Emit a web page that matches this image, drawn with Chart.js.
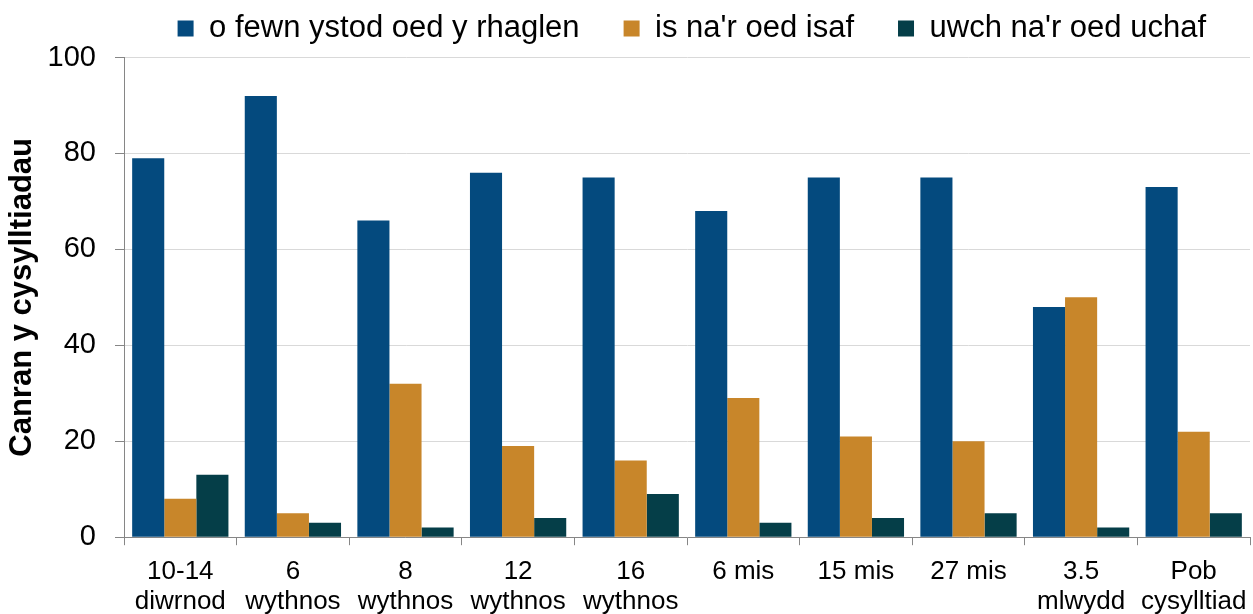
<!DOCTYPE html>
<html>
<head>
<meta charset="utf-8">
<script src="https://cdn.jsdelivr.net/npm/chart.js@4/dist/chart.umd.min.js"></script>
<style>
  html, body { margin: 0; padding: 0; background: #ffffff; }
  #wrap { width: 1253px; height: 614px; position: relative; }
</style>
</head>
<body>
<div id="wrap"><canvas id="c"></canvas></div>
<script>
const categories = [
  ['10-14', 'diwrnod'],
  ['6', 'wythnos'],
  ['8', 'wythnos'],
  ['12', 'wythnos'],
  ['16', 'wythnos'],
  '6 mis',
  '15 mis',
  '27 mis',
  ['3.5', 'mlwydd'],
  ['Pob', 'cysylltiad']
];
const seriesNames = ['o fewn ystod oed y rhaglen', "is na'r oed isaf", "uwch na'r oed uchaf"];
const withinRange = [79, 92, 66, 76, 75, 68, 75, 75, 48, 73];
const belowMinAge = [8, 5, 32, 19, 16, 29, 21, 20, 50, 22];
const aboveMaxAge = [13, 3, 2, 4, 9, 3, 4, 5, 2, 5];
const yTicks = [0, 20, 40, 60, 80, 100];
const yTitle = 'Canran y cysylltiadau';

const colors = ['#044A7E', '#C8862A', '#053E48'];
const FONT = "'Liberation Sans', Arial, sans-serif";

const legendSpacer = {
  id: 'legendSpacer',
  beforeInit(chart) {
    const lg = chart.legend;
    if (lg && !lg._patched) {
      const orig = lg.fit;
      lg.fit = function () {
        orig.call(this);
        this.height += 3.5;
      };
      lg._patched = true;
    }
  }
};

new Chart(document.getElementById('c'), {
  type: 'bar',
  data: {
    labels: categories,
    datasets: [
      { label: seriesNames[0], data: withinRange, backgroundColor: colors[0] },
      { label: seriesNames[1], data: belowMinAge, backgroundColor: colors[1] },
      { label: seriesNames[2], data: aboveMaxAge, backgroundColor: colors[2] }
    ]
  },
  options: {
    responsive: true,
    maintainAspectRatio: false,
    animation: false,
    layout: { padding: { top: -31, left: 0, right: 3, bottom: -15 } },
    datasets: { bar: { barPercentage: 1.0, categoryPercentage: 0.855 } },
    plugins: {
      legend: {
        position: 'top',
        align: 'end',
        labels: {
          boxWidth: 16,
          boxHeight: 16,
          padding: 44,
          color: '#000',
          font: { family: FONT, size: 31 }
        }
      },
      tooltip: { enabled: false }
    },
    scales: {
      x: {
        afterFit(scale) { scale.paddingLeft = 0; scale.paddingRight = 0; },
        grid: {
          display: true,
          offset: true,
          drawOnChartArea: false,
          drawTicks: true,
          tickLength: 8,
          color: '#868686',
          tickColor: '#868686'
        },
        border: { display: true, color: '#868686', width: 1 },
        ticks: {
          color: '#000',
          padding: 12,
          maxRotation: 0,
          autoSkip: false,
          font: { family: FONT, size: 26, lineHeight: 1.15 }
        }
      },
      y: {
        min: 0,
        max: 100,
        afterBuildTicks(scale) {
          scale.ticks = yTicks.map(v => ({ value: v }));
        },
        afterFit(scale) { scale.width = 124; },
        grid: {
          color: '#D9D9D9',
          lineWidth: 1,
          drawTicks: true,
          tickLength: 9,
          tickColor: '#868686'
        },
        border: { display: true, color: '#868686', width: 1 },
        ticks: {
          color: '#000',
          padding: 19,
          font: { family: FONT, size: 29 }
        },
        title: {
          display: true,
          text: yTitle,
          color: '#000',
          padding: { top: 4, bottom: 0 },
          font: { family: FONT, size: 31, weight: 'bold', lineHeight: 1.2 }
        }
      }
    }
  },
  plugins: [legendSpacer]
});
</script>
</body>
</html>
